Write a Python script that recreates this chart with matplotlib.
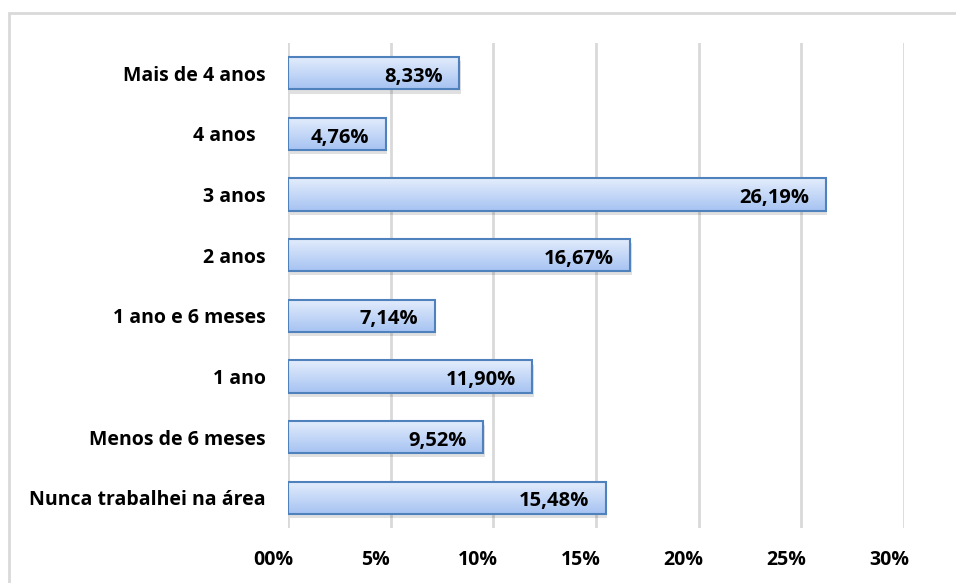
import numpy as np
import matplotlib.pyplot as plt
import matplotlib.transforms as mtransforms
from matplotlib.patches import Rectangle
from matplotlib.colors import LinearSegmentedColormap

plt.rcParams['font.family'] = ['Open Sans', 'DejaVu Sans']

# tempo de experiência na área
categorias = ['Nunca trabalhei na área', 'Menos de 6 meses', '1 ano',
              '1 ano e 6 meses', '2 anos', '3 anos', '4 anos  ', 'Mais de 4 anos']
valores = [15.48, 9.52, 11.90, 7.14, 16.67, 26.19, 4.76, 8.33]
xticks = [0, 5, 10, 15, 20, 25, 30]
xtick_labels = ['00%', '5%', '10%', '15%', '20%', '25%', '30%']

fig = plt.figure(figsize=(9.56, 5.83), dpi=100)
# moldura do gráfico
fig.patches.append(Rectangle((9 / 956, -0.1), 1.2, (583 - 13) / 583 + 0.1,
                             transform=fig.transFigure, fill=False,
                             edgecolor='#d9d9d9', linewidth=2))
ax = fig.add_axes([288 / 956, 55 / 583, 616 / 956, 485 / 583])

y = np.arange(len(categorias))
altura = 0.53
cmap = LinearSegmentedColormap.from_list('grad', ['#a6c3f2', '#e4edfc'])
grad = np.linspace(0, 1, 100).reshape(-1, 1)

for yi, v in zip(y, valores):
    # sombra
    sombra = Rectangle((0.08, yi - altura / 2 - 0.07), v, altura,
                       facecolor='#000000', alpha=0.12, edgecolor='none', zorder=2)
    ax.add_patch(sombra)
    barra = Rectangle((0, yi - altura / 2), v, altura, facecolor='none',
                      edgecolor='#4f81bd', linewidth=1.5, zorder=4)
    ax.add_patch(barra)
    im = ax.imshow(grad, cmap=cmap, aspect='auto', origin='lower',
                   extent=(0, v, yi - altura / 2, yi + altura / 2), zorder=3)
    im.set_clip_path(barra)
    ax.text(v - 0.8, yi - 0.06, ('%.2f' % v).replace('.', ',') + '%',
            ha='right', va='center', fontsize=14.5, fontweight='bold', zorder=5)

ax.set_xlim(0, 30)
ax.set_ylim(-0.5, len(categorias) - 0.5)
ax.set_yticks(y)
ax.set_yticklabels(categorias, fontsize=14, fontweight='bold')
ax.set_xticks(xticks)
ax.set_xticklabels(xtick_labels, fontsize=14, fontweight='bold')
ax.tick_params(axis='both', length=0)
ax.tick_params(axis='y', pad=16)
ax.tick_params(axis='x', pad=16)
# rótulos do eixo x ficam um pouco à esquerda das linhas de grade
desloc = mtransforms.ScaledTranslation(-15 / 100, 0, fig.dpi_scale_trans)
for lbl in ax.get_xticklabels():
    lbl.set_transform(lbl.get_transform() + desloc)
ax.grid(axis='x', color='#d9d9d9', linewidth=2)
ax.set_axisbelow(True)
for s in ax.spines.values():
    s.set_visible(False)

fig.savefig('out.png', dpi=100)
